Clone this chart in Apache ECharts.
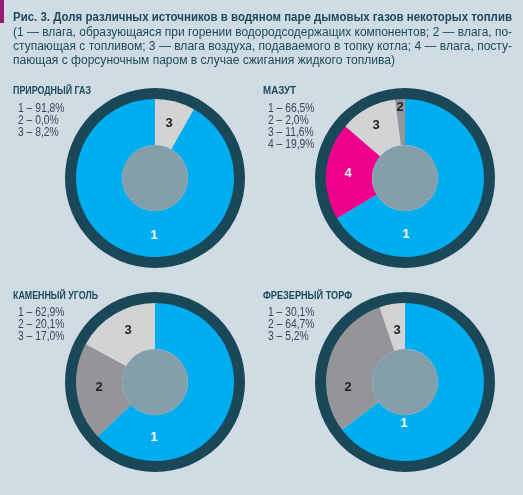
<!DOCTYPE html>
<html><head><meta charset="utf-8">
<script src="https://cdn.jsdelivr.net/npm/echarts@6/dist/echarts.min.js"></script>
<style>html,body{margin:0;padding:0;background:#cfdce3;}#c{width:523px;height:495px;}</style>
</head><body><div id="c"></div>
<script>
// ---- text ----
const headerLines = [
  'Рис. 3. Доля различных источников в водяном паре дымовых газов некоторых топлив',
  '(1 — влага, образующаяся при горении водородсодержащих компонентов; 2 — влага, по-',
  'ступающая с топливом; 3 — влага воздуха, подаваемого в топку котла; 4 — влага, посту-',
  'пающая с форсуночным паром в случае сжигания жидкого топлива)'
];
const pieTitles = ['ПРИРОДНЫЙ ГАЗ', 'МАЗУТ', 'КАМЕННЫЙ УГОЛЬ', 'ФРЕЗЕРНЫЙ ТОРФ'];
const gasLegend = ['1 – 91,8%', '2 – 0,0%', '3 – 8,2%'];
const mazutLegend = ['1 – 66,5%', '2 – 2,0%', '3 – 11,6%', '4 – 19,9%'];
const coalLegend = ['1 – 62,9%', '2 – 20,1%', '3 – 17,0%'];
const peatLegend = ['1 – 30,1%', '2 – 64,7%', '3 – 5,2%'];

// ---- slices (clockwise order from 12 o'clock, as drawn) ----
const gasSlices = ['3', '1', '2'];
const gasValues = [8.2, 91.8, 0.0];
const mazutSlices = ['1', '4', '3', '2'];
const mazutValues = [66.5, 19.9, 11.6, 2.0];
const coalSlices = ['1', '2', '3'];
const coalValues = [62.9, 20.1, 17.0];
const peatSlices = ['1', '2', '3'];
const peatValues = [64.7, 30.1, 5.2];

// ---- styling / layout ----
const sliceColor = {'1': '#00adef', '2': '#939598', '3': '#d1d3d4', '4': '#ec008c'};
const labelColor = {'1': '#ffffff', '2': '#231f20', '3': '#231f20', '4': '#ffffff'};
const centers = [[155, 178], [405, 178], [155, 382], [405, 382]];
const labelOffsets = [
  {'3': [14, -55], '1': [-1, 57]},
  {'2': [-5, -71], '3': [-29, -53], '4': [-57, -5], '1': [1, 56]},
  {'3': [-27, -52], '2': [-56, 5], '1': [-1, 55]},
  {'3': [-8, -52], '2': [-57, 5], '1': [-1, 41]}
];
const FONT = '"Liberation Sans", Arial, sans-serif';

const pies = [
  {slices: gasSlices, values: gasValues, legend: gasLegend},
  {slices: mazutSlices, values: mazutValues, legend: mazutLegend},
  {slices: coalSlices, values: coalValues, legend: coalLegend},
  {slices: peatSlices, values: peatValues, legend: peatLegend}
];

const cv = document.createElement('canvas').getContext('2d');
function fitText(text, x, y, font, fill, targetW, scale) {
  cv.font = font;
  const w = cv.measureText(text).width;
  const s = targetW ? targetW / w : scale;
  return {type: 'text', x: x, y: y, scaleX: s, silent: true,
    style: {text: text, x: 0, y: 0, font: font, fill: fill, textAlign: 'left', textVerticalAlign: 'middle'}};
}

const graphics = [
  {type: 'rect', shape: {x: 0, y: 0, width: 4, height: 23}, style: {fill: '#9b1b72'}, silent: true}
];
const hFill = '#1e4a5b';
graphics.push(fitText(headerLines[0], 13, 17.5, 'bold 12.5px ' + FONT, hFill, 499));
graphics.push(fitText(headerLines[1], 13, 32.5, '12px ' + FONT, hFill, 499));
graphics.push(fitText(headerLines[2], 13, 46.5, '12px ' + FONT, hFill, 499));
graphics.push(fitText(headerLines[3], 13, 60.5, '12px ' + FONT, hFill, 382));

const titlePos = [[13, 90.5], [263, 90.5], [13, 295.5], [263, 295.5]];
const titleW = [78, 33, 85, 89];
const legendPos = [[18, 109], [268, 109], [18, 313], [268, 313]];
pies.forEach((p, i) => {
  graphics.push(fitText(pieTitles[i], titlePos[i][0], titlePos[i][1], 'bold 11px ' + FONT, hFill, titleW[i]));
  p.legend.forEach((t, j) => {
    graphics.push(fitText(t, legendPos[i][0], legendPos[i][1] + j * 12, '12px ' + FONT, '#3a4a55', null, 0.86));
  });
});

const series = [];
pies.forEach((p, i) => {
  const c = centers[i];
  series.push({
    type: 'pie', center: c, radius: [78, 90], silent: true, animation: false,
    label: {show: false}, labelLine: {show: false},
    data: [{value: 1, itemStyle: {color: '#1b4858'}}]
  });
  const data = [];
  p.slices.forEach((s, k) => {
    if (p.values[k] > 0) data.push({name: s, value: p.values[k],
      itemStyle: {color: sliceColor[s]},
      label: {color: labelColor[s]}});
  });
  const offs = labelOffsets[i];
  series.push({
    type: 'pie', center: c, radius: [33, 79], silent: true, animation: false,
    startAngle: 90, clockwise: true, avoidLabelOverlap: false,
    label: {show: true, position: 'inside', formatter: '{b}', fontFamily: FONT, fontWeight: 'bold', fontSize: 13},
    labelLine: {show: false},
    labelLayout: function (params) {
      const name = data[params.dataIndex].name;
      const o = offs[name];
      return {x: c[0] + o[0], y: c[1] + o[1], align: 'center', verticalAlign: 'middle'};
    },
    data: data
  });
  series.push({
    type: 'pie', center: c, radius: [0, 33], silent: true, animation: false,
    label: {show: false}, labelLine: {show: false},
    data: [{value: 1, itemStyle: {color: '#859eab'}}]
  });
});

const chart = echarts.init(document.getElementById('c'), null, {renderer: 'canvas'});
chart.setOption({
  backgroundColor: '#cfdce3',
  animation: false,
  series: series,
  graphic: graphics
});
</script>
</body></html>
